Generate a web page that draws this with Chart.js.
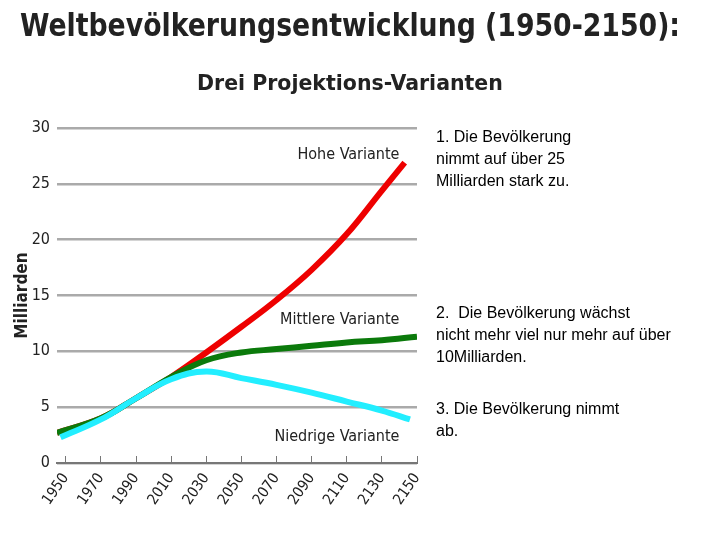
<!DOCTYPE html>
<html>
<head>
<meta charset="utf-8">
<script src="https://cdn.jsdelivr.net/npm/chart.js@4.4.0/dist/chart.umd.min.js"></script>
<style>
  body { margin: 0; background: #fff; }
  #wrap { position: relative; width: 720px; height: 540px; }
  #c { position: absolute; left: 0; top: 0; }
  .head { position: absolute; font-family: "DejaVu Sans Condensed", "DejaVu Sans", sans-serif;
          font-weight: bold; color: #222; white-space: nowrap; transform-origin: 0 0; }
  .note { position: absolute; left: 436px; font-family: "Liberation Sans", Arial, sans-serif;
          font-size: 16px; line-height: 22px; color: #000; white-space: pre; }
</style>
</head>
<body>
<div id="wrap">
  <canvas id="c" width="720" height="540"></canvas>
  <div class="head" id="t1" data-left="20" data-w="660" style="top:6px;font-size:32px">Weltbevölkerungsentwicklung (1950-2150):</div>
  <div class="head" id="t2" data-left="197" data-w="306" style="top:71px;font-size:21px">Drei Projektions-Varianten</div>
  <div class="note" style="top:126px">1. Die Bevölkerung
nimmt auf über 25
Milliarden stark zu.</div>
  <div class="note" style="top:302px">2.  Die Bevölkerung wächst
nicht mehr viel nur mehr auf über
10Milliarden.</div>
  <div class="note" style="top:398px">3. Die Bevölkerung nimmt
ab.</div>
</div>
<script>
// years of the points of each curve
let hoheJahre     = [1945, 1970, 1990, 2010, 2030, 2050, 2070, 2090, 2110, 2130, 2143];
let mittlereJahre = [1945, 1970, 1990, 2010, 2030, 2050, 2070, 2090, 2110, 2130, 2150];
let niedrigeJahre = [1947, 1970, 1990, 2010, 2030, 2050, 2070, 2090, 2110, 2130, 2146];
let xTicks = [1950, 1970, 1990, 2010, 2030, 2050, 2070, 2090, 2110, 2130, 2150];
let yTicks = [0, 5, 10, 15, 20, 25, 30];

// Milliarden
let hoheWerte     = [2.7, 4.0, 5.8, 7.7, 9.9, 12.2, 14.6, 17.3, 20.5, 24.4, 26.9];
let mittlereWerte = [2.7, 4.0, 5.8, 7.7, 9.2, 9.9, 10.2, 10.5, 10.8, 11.0, 11.3];
let niedrigeWerte = [2.3, 3.9, 5.8, 7.5, 8.2, 7.6, 7.0, 6.3, 5.5, 4.7, 3.9];

let seriesNames = ["Hohe Variante", "Mittlere Variante", "Niedrige Variante"];
let labelPos = [[2140, 27.6], [2140, 12.8], [2140, 2.3]];

const condensed = '"DejaVu Sans Condensed", "Liberation Sans Narrow", "DejaVu Sans", sans-serif';

// stretch the headings to the width they have in the picture
for (let id of ["t1", "t2"]){
    let el = document.getElementById(id);
    el.style.left = el.dataset.left + "px";
    el.style.transform = "scaleX(" + (el.dataset.w / el.offsetWidth) + ")";
}

function pts(jahre, vals){
    let out = [];
    for (let i=0; i<jahre.length; i++){
        out.push({x: jahre[i], y: vals[i]});
    }
    return out;
}

// draws the curve names inside the plot
const curveLabels = {
    id: 'curveLabels',
    afterDatasetsDraw(chart){
        let ctx = chart.ctx;
        let xs = chart.scales.x, ys = chart.scales.y;
        ctx.save();
        ctx.font = '16px ' + condensed;
        ctx.fillStyle = '#222';
        ctx.textAlign = 'right';
        ctx.textBaseline = 'middle';
        for (let i=0; i<seriesNames.length; i++){
            ctx.fillText(seriesNames[i], xs.getPixelForValue(labelPos[i][0]), ys.getPixelForValue(labelPos[i][1]));
        }
        ctx.restore();
    }
};

new Chart(document.getElementById("c"), {
    type: 'line',
    data: {
        datasets: [
            {label: seriesNames[0], data: pts(hoheJahre, hoheWerte), borderColor: '#ee0000', order: 3},
            {label: seriesNames[1], data: pts(mittlereJahre, mittlereWerte), borderColor: '#0b7a0b', order: 2},
            {label: seriesNames[2], data: pts(niedrigeJahre, niedrigeWerte), borderColor: '#22eeff', order: 1}
        ]
    },
    options: {
        responsive: false,
        animation: false,
        layout: { padding: { left: 12, right: 303, top: 128, bottom: 8 } },
        elements: {
            line: { borderWidth: 6, tension: 0.4, borderCapStyle: 'butt' },
            point: { radius: 0 }
        },
        plugins: {
            legend: { display: false },
            tooltip: { enabled: false }
        },
        scales: {
            x: {
                type: 'linear',
                min: 1945,
                max: 2150,
                afterBuildTicks(scale){ scale.ticks = xTicks.map(v => ({value: v})); },
                afterFit(scale){ scale.height = 540 - 463 - 8; },
                grid: { display: true, drawOnChartArea: false, drawTicks: true, tickLength: -7, color: '#777' },
                border: { display: true, color: '#777', width: 2 },
                ticks: {
                    color: '#222',
                    padding: 14,
                    maxRotation: 55, minRotation: 55,
                    font: { family: condensed, size: 15 },
                    callback: v => String(v)
                }
            },
            y: {
                min: 0,
                max: 30,
                afterBuildTicks(scale){ scale.ticks = yTicks.map(v => ({value: v})); },
                afterFit(scale){ scale.width = 57 - 12; },
                grid: { color: '#aaa', lineWidth: 2.5, drawTicks: false },
                border: { display: false },
                ticks: { color: '#222', padding: 7, font: { family: condensed, size: 16 } },
                title: {
                    display: true,
                    text: 'Milliarden',
                    color: '#222',
                    font: { family: condensed, size: 17, weight: 'bold' },
                    padding: 0
                }
            }
        }
    },
    plugins: [curveLabels]
});
</script>
</body>
</html>
